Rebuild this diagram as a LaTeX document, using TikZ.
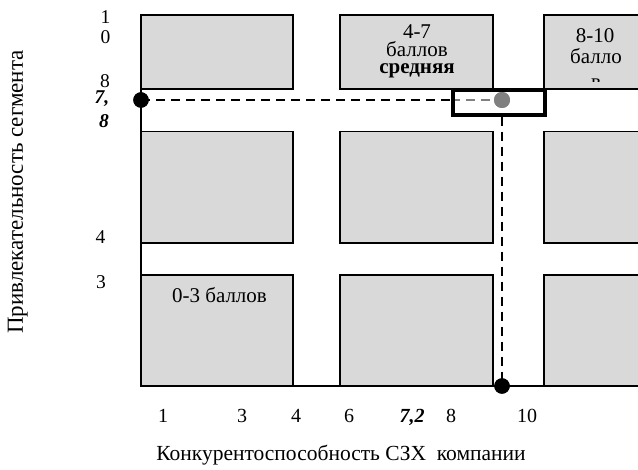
\documentclass[tikz,border=0pt]{standalone}
\usepackage{fontspec}
\setmainfont{Liberation Serif}
\definecolor{cellgray}{RGB}{217, 217, 217}
\definecolor{markgray}{RGB}{128, 128, 128}
\usepackage{tikz}

\begin{document}
\begin{tikzpicture}[x=1pt, y=-1pt,
    cell/.style={draw, fill=cellgray, line width=1.6pt},
    axisline/.style={line width=1.1pt},
    guide/.style={line width=2.2pt, dash pattern=on 9pt off 6pt},
    lbl/.style={font=\fontsize{21}{21}\selectfont, anchor=base, inner sep=0pt},
    tick/.style={font=\fontsize{19.5}{19.5}\selectfont, anchor=base, inner sep=0pt},
    xtick/.style={font=\fontsize{20}{20}\selectfont, anchor=base, inner sep=0pt},
    title/.style={font=\fontsize{21.5}{21.5}\selectfont, anchor=base, inner sep=0pt},
    dot/.style={circle, fill=black, inner sep=0pt, minimum size=15.5pt}]
        \useasboundingbox (0,0) rectangle (638,470);
        \clip (0,0) rectangle (638,470);

        % grid of segments
        \foreach \xa/\xb in {141/293, 340/493, 544/680}
          \foreach \ya/\yb in {15/89, 131.5/243, 275/386}
            \draw[cell] (\xa,\ya) rectangle (\xb,\yb);
        \draw[axisline] (141,15) -- (141,386) -- (640,386);

        % texts in the cells
        \node[lbl] (mid1) at (417,39) {4-7};
        \node[lbl] (mid2) at (417,57) {баллов};
        \node[lbl, font=\fontsize{21}{21}\selectfont\bfseries] (mid3) at (417,73.5) {средняя};
        \node[lbl] (high1) at (595,43) {8-10};
        \node[lbl] (high2) at (596,64) {балло};
        \begin{scope}
          \clip (544,15) rectangle (640,82);
          \node[lbl] (high3) at (596,88.5) {в};
        \end{scope}
        \node[lbl] (low) at (219.5,303) {0-3 баллов};

        % position of the company
        \node[dot] (ypt) at (141,100) {};
        \node[dot] (xpt) at (502,386) {};
        \node[draw, line width=4pt, minimum width=92pt, minimum height=24.5pt,
          inner sep=0pt] (win) at (499,102.3) {};
        \node[circle, fill=markgray, inner sep=0pt, minimum size=16pt] (mark) at (502,100) {};
        \draw[guide] (ypt.center) -- (ypt -| win.west);
        \draw[guide, markgray] (ypt -| win.west) -- (mark.center);
        \draw[guide] (win.south -| xpt) -- (xpt.center);
        \node[draw, line width=4pt, minimum width=92pt, minimum height=24.5pt,
          inner sep=0pt] (frame) at (win) {};
        \node[circle, fill=markgray, inner sep=0pt, minimum size=16pt] (markb) at (mark) {};
        \node[dot] (yptb) at (ypt) {};
        \node[dot] (xptb) at (xpt) {};

        % scale of attractiveness
        \node[tick] (y10a) at (105.5,23.5) {1};
        \node[tick] (y10b) at (105.5,43.5) {0};
        \node[tick] (y8) at (105,88) {8};
        \node[tick, font=\fontsize{19.5}{19.5}\selectfont\bfseries\itshape] (y78a) at (102,104) {7,};
        \node[tick, font=\fontsize{19.5}{19.5}\selectfont\bfseries\itshape] (y78b) at (104,128) {8};
        \node[tick] (y4) at (100.5,243.3) {4};
        \node[tick] (y3) at (101,288.3) {3};

        % scale of competitiveness
        \node[xtick] (x1) at (163,422.7) {1};
        \node[xtick] (x3) at (242,422.7) {3};
        \node[xtick] (x4) at (296,422.7) {4};
        \node[xtick] (x6) at (349,422.7) {6};
        \node[xtick, font=\fontsize{20}{20}\selectfont\bfseries\itshape] (x72) at (412,422.7) {7,2};
        \node[xtick] (x8) at (451,422.7) {8};
        \node[xtick] (x10) at (527,422.7) {10};

        \node[title] (xlab) at (341,461) {Конкурентоспособность СЗХ\ \ компании};
        \node[title, font=\fontsize{23}{23}\selectfont, rotate=90] (ylab) at (23,192) {Привлекательность сегмента};
      \end{tikzpicture}
\end{document}
